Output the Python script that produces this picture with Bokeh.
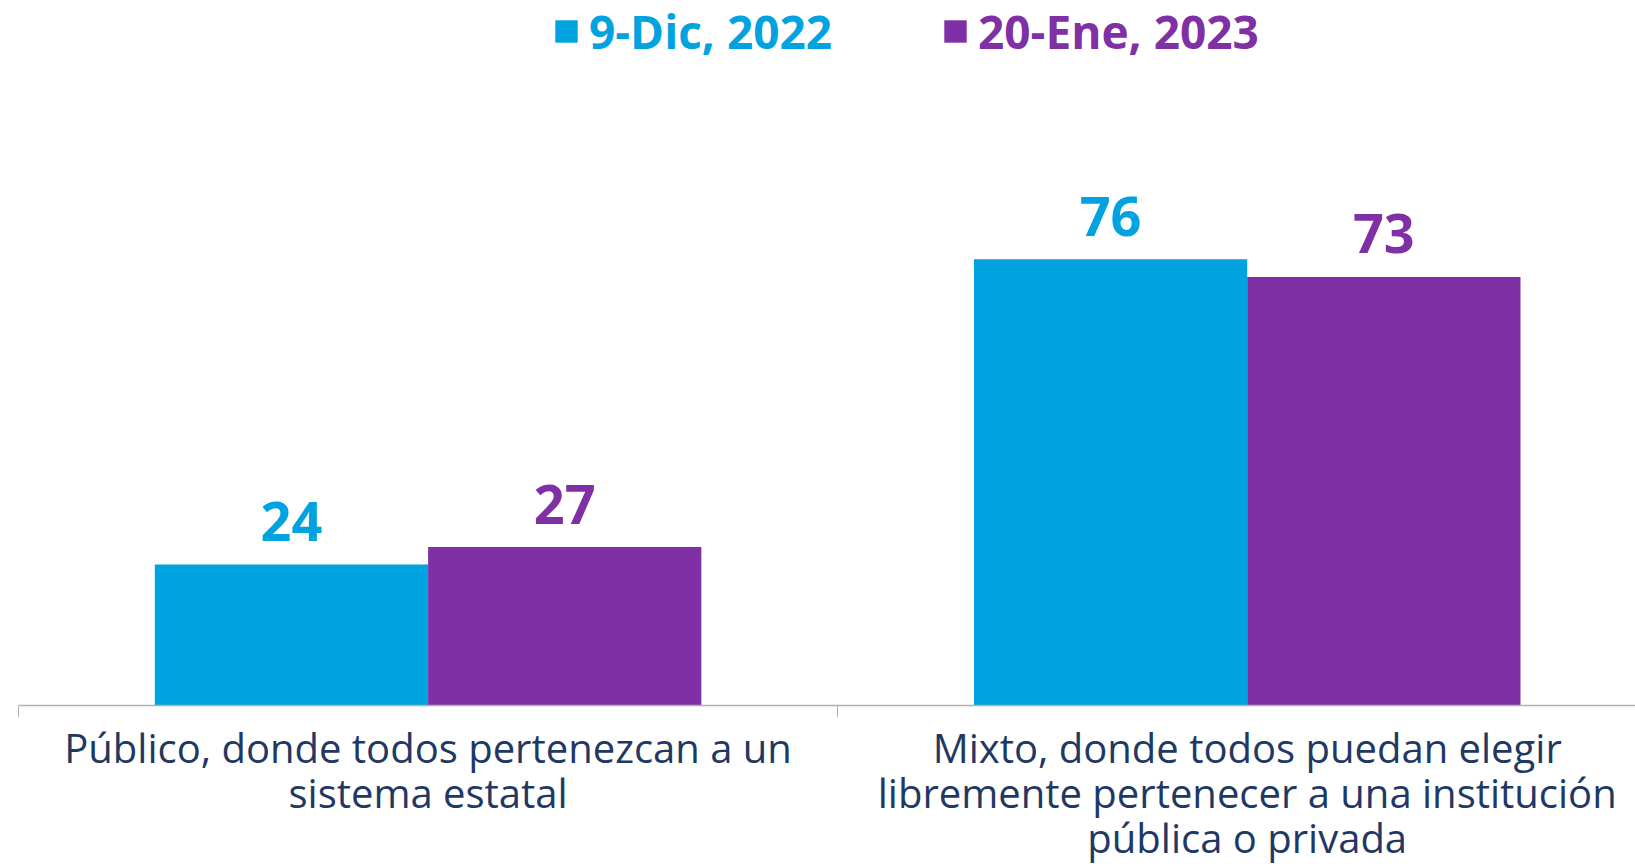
from bokeh.plotting import figure
from bokeh.models import Range1d, FixedTicker, Legend, LegendItem, ColumnDataSource
from bokeh.core.properties import value
from bokeh.embed import file_html
from bokeh.resources import INLINE

categories = [
    "Público, donde todos pertenezcan a un\nsistema estatal",
    "Mixto, donde todos puedan elegir\nlibremente pertenecer a una institución\npública o privada",
]
series_names = ["9-Dic, 2022", "20-Ene, 2023"]
dic_2022 = [24, 76]
ene_2023 = [27, 73]
series_values = [dic_2022, ene_2023]
colors = ["#00A3E0", "#7F30A5"]

FONT = "Open Sans"
bar_w = 0.3336

p = figure(frame_width=1617, frame_height=705,
           x_range=Range1d(0, 1.974), y_range=Range1d(0, 120.1),
           output_backend="svg", toolbar_location=None,
           min_border_left=18, min_border_right=0, min_border_top=0, min_border_bottom=0)
p.outline_line_color = None
p.xgrid.visible = False
p.ygrid.visible = False
p.yaxis.visible = False

renderers = []
for i, (name, vals, col) in enumerate(zip(series_names, series_values, colors)):
    xs = [j + 0.5 + (i - 0.5) * bar_w for j in range(len(categories))]
    src = ColumnDataSource(dict(x=xs, top=vals, label=[str(v) for v in vals]))
    r = p.vbar(x="x", top="top", width=bar_w, bottom=0, source=src,
               fill_color=col, line_color=None)
    renderers.append(r)
    p.text(x="x", y="top", text="label", source=src, text_align="center",
           text_baseline="alphabetic", y_offset=-43, text_color=col,
           text_font=value(FONT), text_font_style="bold", text_font_size="54px")

ax = p.xaxis[0]
ax.ticker = FixedTicker(ticks=[0.5, 1.5], minor_ticks=[0, 1, 2])
ax.major_label_overrides = {0.5: categories[0], 1.5: categories[1]}
ax.axis_line_color = "#B0B0B0"
ax.axis_line_width = 1.5
ax.major_tick_out = 0
ax.major_tick_in = 0
ax.minor_tick_out = 12
ax.minor_tick_in = 0
ax.minor_tick_line_color = "#B0B0B0"
ax.minor_tick_line_width = 1
ax.major_label_text_font = FONT
ax.major_label_text_font_size = "40px"
ax.major_label_text_color = "#1F3864"
ax.major_label_text_line_height = 0.82
ax.major_label_standoff = 2

legend_x = [534, 923]
for name, r, col, lx in zip(series_names, renderers, colors, legend_x):
    lg = Legend(items=[LegendItem(label=name, renderers=[r])],
                location=(lx, 643), orientation="horizontal",
                glyph_width=28, glyph_height=28, label_standoff=9,
                padding=0, margin=0, border_line_color=None,
                background_fill_alpha=0,
                label_text_font=FONT, label_text_font_style="bold",
                label_text_font_size="46px", label_text_color=col)
    p.add_layout(lg)

open("out.html", "w").write(file_html(p, INLINE))
